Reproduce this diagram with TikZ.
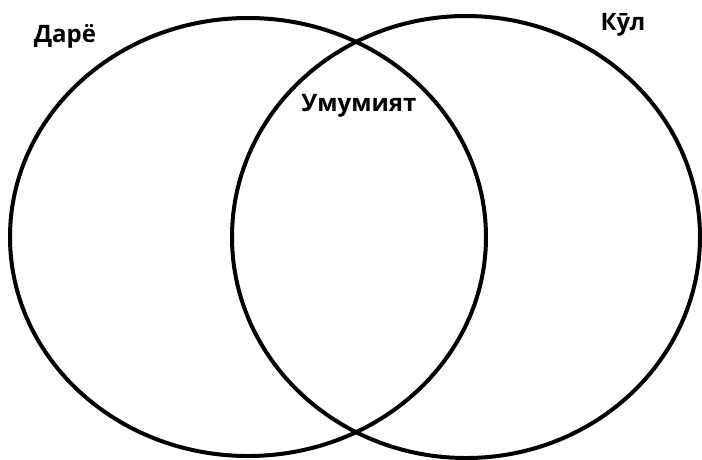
\documentclass[tikz,border=0pt]{standalone}
\usepackage{fontspec}
\setmainfont{Open Sans}
\usetikzlibrary{shapes.geometric}

\begin{document}
\begin{tikzpicture}[x=1pt, y=-1pt, every node/.style={font=\fontsize{24}{28}\selectfont\bfseries}]
	\useasboundingbox (0,0) rectangle (702,459);
	\tikzset{set/.style={draw, line width=4pt, ellipse, inner sep=0pt}}
	% the two sets
	\node[set, minimum width=476pt, minimum height=438pt] (dare) at (248,237) {};
	\node[set, minimum width=468pt, minimum height=442pt] (kul) at (466,237) {};
	% labels
	\node (dareLabel) at (65,36) {Дарё};
	\node (kulLabel) at (623,25) {Кӯл};
	\node (common) at (359,106) {Умумият};
\end{tikzpicture}
\end{document}
